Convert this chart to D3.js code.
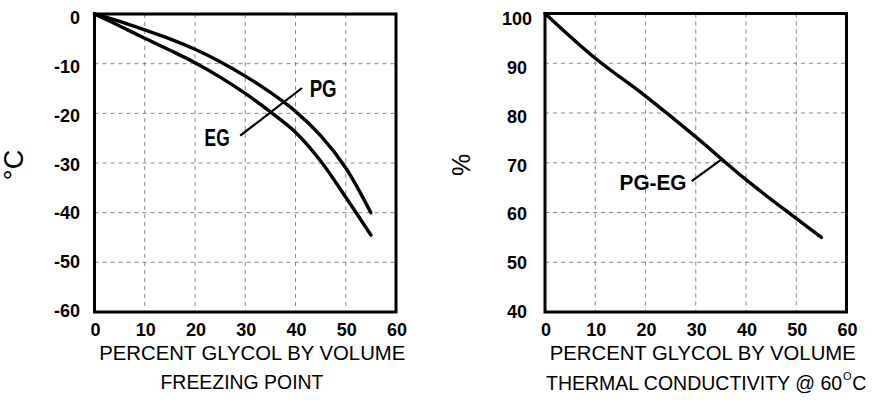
<!DOCTYPE html>
<html><head><meta charset="utf-8">
<script src="https://cdn.jsdelivr.net/npm/d3@7"></script>
<style>html,body{margin:0;padding:0;background:#fff;}svg{display:block;}</style>
</head><body>
<svg id="c" width="876" height="400"></svg>
<script>
// ---- data ----
const xTicks = [0, 10, 20, 30, 40, 50, 60];
const freezeTicks = [0, -10, -20, -30, -40, -50, -60];
const condTicks = [100, 90, 80, 70, 60, 50, 40];

const freezePct = [0, 5, 10, 15, 20, 25, 30, 35, 40, 45, 50, 55];
const pgFreeze = [0, -1.5, -3.2, -5, -7.1, -9.6, -12.5, -15.8, -19.6, -24.5, -31, -40];
const egFreeze = [0, -2.4, -4.9, -7.3, -9.8, -12.7, -16, -19.7, -23.8, -29.6, -36.9, -44.5];

const condPct = [0, 10, 20, 30, 40, 50, 55];
const pgEgCond = [100, 91, 83.4, 75.2, 66.6, 58.8, 55];

// annotation leaders (data units)
const freezeLeader = [[29, -24.5], [41.3, -14.9]];
const condLeader = [[29.2, 66.3], [35.4, 70.9]];

const svg = d3.select("#c");
const FONT = "'Liberation Sans', Arial, sans-serif";

function panel(o) {
  const g = svg.append("g");
  const x = d3.scaleLinear().domain([0, 60]).range([o.x0, o.x1]);
  const y = d3.scaleLinear().domain(o.yDomain).range([o.y1, o.y0]);

  g.selectAll(".vg").data(xTicks.slice(1, -1)).enter().append("line")
    .attr("x1", d => x(d)).attr("x2", d => x(d)).attr("y1", o.y0).attr("y2", o.y1)
    .attr("stroke", "#888").attr("stroke-width", 1).attr("stroke-dasharray", "4,4");
  g.selectAll(".hg").data(o.yTicks.slice(1, -1)).enter().append("line")
    .attr("y1", d => y(d)).attr("y2", d => y(d)).attr("x1", o.x0).attr("x2", o.x1)
    .attr("stroke", "#888").attr("stroke-width", 1).attr("stroke-dasharray", "4,4");

  g.append("rect").attr("x", o.x0).attr("y", o.y0)
    .attr("width", o.x1 - o.x0).attr("height", o.y1 - o.y0)
    .attr("fill", "none").attr("stroke", "#000").attr("stroke-width", 3);

  g.selectAll(".xt").data(xTicks).enter().append("text")
    .attr("x", d => x(d) + 1).attr("y", 336)
    .attr("text-anchor", "middle").attr("font-family", FONT)
    .attr("font-weight", "bold").attr("font-size", 18).text(d => d);

  const yl = d3.scaleLinear().domain(o.yDomain).range([o.lblBottom, o.lblTop]);
  g.selectAll(".yt").data(o.yTicks).enter().append("text")
    .attr("x", o.lblX).attr("y", d => yl(d))
    .attr("text-anchor", o.lblAnchor).attr("font-family", FONT)
    .attr("font-weight", "bold").attr("font-size", 18).text(d => d);

  g.append("text").attr("x", (o.x0 + o.x1) / 2 + 7).attr("y", 360)
    .attr("text-anchor", "middle").attr("font-family", FONT)
    .attr("font-size", 21).attr("textLength", 306).attr("lengthAdjust", "spacingAndGlyphs")
    .text("PERCENT GLYCOL BY VOLUME");

  return {g, x, y};
}

// ---- left: freezing point ----
const L = panel({x0: 94.5, x1: 396, y0: 14, y1: 312, yDomain: [-60, 0], yTicks: freezeTicks,
  lblX: 80, lblAnchor: "end", lblTop: 24, lblBottom: 317});
const lineL = d3.line().x((d, i) => L.x(freezePct[i])).y(d => L.y(d)).curve(d3.curveCatmullRom);
[pgFreeze, egFreeze].forEach(s => {
  L.g.append("path").attr("d", lineL(s)).attr("fill", "none")
    .attr("stroke", "#000").attr("stroke-width", 3.4).attr("stroke-linecap", "round");
});
L.g.append("line")
  .attr("x1", L.x(freezeLeader[0][0])).attr("y1", L.y(freezeLeader[0][1]))
  .attr("x2", L.x(freezeLeader[1][0])).attr("y2", L.y(freezeLeader[1][1]))
  .attr("stroke", "#000").attr("stroke-width", 2.2);
L.g.append("text").attr("x", L.x(45.5)).attr("y", L.y(-15.1) + 8)
  .attr("text-anchor", "middle").attr("font-family", FONT).attr("font-weight", "bold")
  .attr("font-size", 23).attr("textLength", 27).attr("lengthAdjust", "spacingAndGlyphs").text("PG");
L.g.append("text").attr("x", L.x(24.4)).attr("y", L.y(-24.9) + 8)
  .attr("text-anchor", "middle").attr("font-family", FONT).attr("font-weight", "bold")
  .attr("font-size", 23).attr("textLength", 25).attr("lengthAdjust", "spacingAndGlyphs").text("EG");
svg.append("text").attr("transform", "translate(23,165) rotate(-90)")
  .attr("text-anchor", "middle").attr("font-family", FONT).attr("font-size", 27).text("°C");
svg.append("text").attr("x", 242).attr("y", 389)
  .attr("text-anchor", "middle").attr("font-family", FONT)
  .attr("font-size", 21).attr("textLength", 163).attr("lengthAdjust", "spacingAndGlyphs")
  .text("FREEZING POINT");

// ---- right: thermal conductivity ----
const R = panel({x0: 545, x1: 846.5, y0: 13.5, y1: 312, yDomain: [40, 100], yTicks: condTicks,
  lblX: 517, lblAnchor: "middle", lblTop: 25, lblBottom: 318});
const lineR = d3.line().x((d, i) => R.x(condPct[i])).y(d => R.y(d)).curve(d3.curveCatmullRom);
R.g.append("path").attr("d", lineR(pgEgCond)).attr("fill", "none")
  .attr("stroke", "#000").attr("stroke-width", 3.4).attr("stroke-linecap", "round");
R.g.append("line")
  .attr("x1", R.x(condLeader[0][0])).attr("y1", R.y(condLeader[0][1]))
  .attr("x2", R.x(condLeader[1][0])).attr("y2", R.y(condLeader[1][1]))
  .attr("stroke", "#000").attr("stroke-width", 2.2);
R.g.append("text").attr("x", R.x(21.5)).attr("y", R.y(66.1) + 8)
  .attr("text-anchor", "middle").attr("font-family", FONT).attr("font-weight", "bold")
  .attr("font-size", 22).attr("textLength", 67).attr("lengthAdjust", "spacingAndGlyphs").text("PG-EG");
svg.append("text").attr("transform", "translate(470,165) rotate(-90)")
  .attr("text-anchor", "middle").attr("font-family", FONT).attr("font-size", 25).text("%");
const main = svg.append("text").attr("x", 546).attr("y", 390)
  .attr("font-family", FONT).attr("font-size", 19.5)
  .text("THERMAL CONDUCTIVITY @ 60");
const endX = 546 + main.node().getComputedTextLength();
const sup = svg.append("text").attr("x", endX + 1).attr("y", 380)
  .attr("font-family", FONT).attr("font-size", 11).text("O");
const supEnd = endX + 1 + sup.node().getComputedTextLength();
svg.append("text").attr("x", supEnd + 0.5).attr("y", 390)
  .attr("font-family", FONT).attr("font-size", 19.5).text("C");
</script>
</body></html>
